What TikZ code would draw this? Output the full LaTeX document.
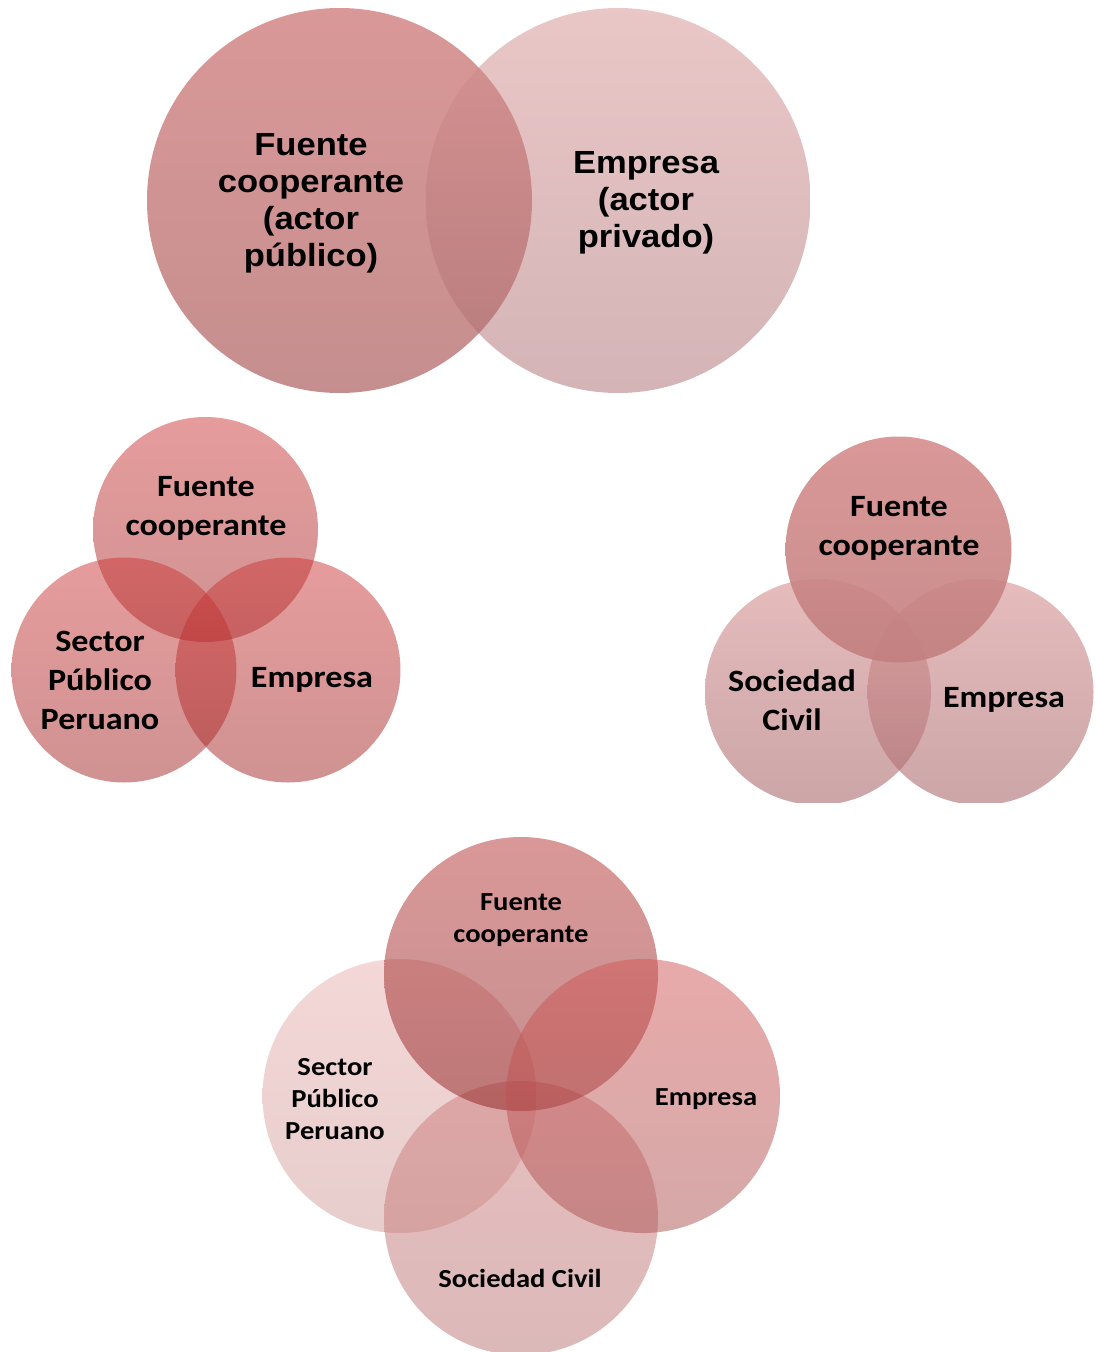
\documentclass[tikz,border=0pt]{standalone}
\usepackage{fontspec}
\setmainfont{Carlito}[FakeStretch=1.1]
\newfontfamily\arialfont{Liberation Sans}[FakeStretch=1.08]
\definecolor{darkTop}{RGB}{181,49,49}
\definecolor{darkBot}{RGB}{140,30,30}
\definecolor{lightTop}{RGB}{213,143,143}
\definecolor{lightBot}{RGB}{169,105,109}
\definecolor{midTop}{RGB}{205,57,57}
\definecolor{midBot}{RGB}{161,37,37}
\definecolor{solidTop}{RGB}{214,141,141}
\definecolor{solidBot}{RGB}{194,127,127}
\definecolor{paleTop}{RGB}{233,177,177}
\definecolor{paleBot}{RGB}{209,155,155}
\definecolor{roseTop}{RGB}{209,85,85}
\definecolor{roseBot}{RGB}{171,81,81}
\definecolor{civilTop}{RGB}{207,125,125}
\definecolor{civilBot}{RGB}{185,115,115}
\begin{document}
\begin{tikzpicture}[x=1pt,y=-1pt,
        venn/.style={circle,inner sep=0pt,draw=none,fill opacity=0.5},
        dark/.style={venn,top color=darkTop,bottom color=darkBot},
        light/.style={venn,top color=lightTop,bottom color=lightBot},
        mid/.style={venn,top color=midTop,bottom color=midBot,minimum size=225pt},
        big/.style={minimum size=385pt},
        small/.style={minimum size=226pt},
        four/.style={minimum size=274pt},
        toplabel/.style={align=center,font=\arialfont\bfseries\fontsize{32}{37}\selectfont},
        midlabel/.style={align=center,font=\bfseries\fontsize{31}{39}\selectfont},
        lowlabel/.style={align=center,font=\bfseries\fontsize{26}{32}\selectfont}]
        \useasboundingbox (0,0) rectangle (1095,1352);
        \begin{scope}
          \clip (0,0) rectangle (1095,392);
          \node[dark,big] (fuenteA) at (339.5,200.5) {};
          \node[light,big] (empresaA) at (618,200.5) {};
        \end{scope}
        \begin{scope}
          \clip (0,400) rectangle (560,782);
          \node[mid] (fuenteB) at (205.5,529.5) {};
          \node[mid] (sectorB) at (124,670) {};
          \node[mid] (empresaB) at (288,670) {};
        \end{scope}
        \begin{scope}
          \clip (600,420) rectangle (1095,802);
          \node[light,small,fill opacity=0.6] (civilC) at (818,692) {};
          \node[light,small,fill opacity=0.6] (empresaC) at (980.5,692) {};
          \node[venn,small,fill opacity=0.9,top color=solidTop,bottom color=solidBot] (fuenteC) at (898.5,549.5) {};
        \end{scope}
        \node[venn,four,top color=paleTop,bottom color=paleBot] (sectorD) at (399.5,1096) {};
        \node[venn,four,top color=civilTop,bottom color=civilBot] (civilD) at (521,1218) {};
        \node[dark,four] (fuenteD) at (521,974) {};
        \node[venn,four,top color=roseTop,bottom color=roseBot] (empresaD) at (643,1096) {};
        \node[toplabel] (fuenteAtext) at (311,203) {Fuente\\cooperante\\(actor\\público)};
        \node[toplabel] (empresaAtext) at (646,202.5) {Empresa\\(actor\\privado)};
        \node[midlabel] (fuenteBtext) at (206,508) {Fuente\\cooperante};
        \node[midlabel] (sectorBtext) at (100,680) {Sector\\Público\\Peruano};
        \node[midlabel] (empresaBtext) at (312,680) {Empresa};
        \node[midlabel] (fuenteCtext) at (899,528) {Fuente\\cooperante};
        \node[midlabel] (civilCtext) at (792,700) {Sociedad\\Civil};
        \node[midlabel] (empresaCtext) at (1004,700) {Empresa};
        \node[lowlabel] (fuenteDtext) at (521,920) {Fuente\\cooperante};
        \node[lowlabel] (sectorDtext) at (335,1099) {Sector\\Público\\Peruano};
        \node[lowlabel] (empresaDtext) at (706,1099) {Empresa};
        \node[lowlabel] (civilDtext) at (520,1278) {Sociedad Civil};
    \end{tikzpicture}
\end{document}
